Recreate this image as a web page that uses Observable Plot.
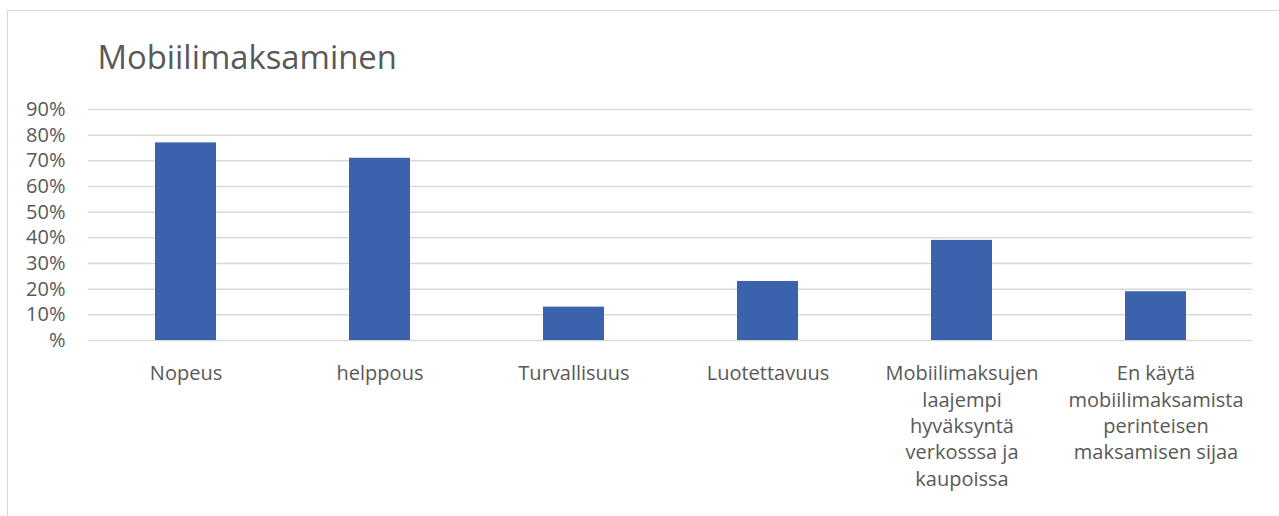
<!DOCTYPE html>
<html>
<head>
<meta charset="utf-8">
<script src="https://cdn.jsdelivr.net/npm/d3@7"></script>
<script src="https://cdn.jsdelivr.net/npm/@observablehq/plot@0.6"></script>
<style>
  html, body { margin: 0; padding: 0; background: #fff; }
  #wrap { position: relative; width: 1279px; height: 516px; overflow: hidden; }
  #border { position: absolute; left: 7px; top: 10px; width: 1400px; height: 600px;
            border-left: 1.5px solid #d9d9d9; border-top: 1.5px solid #d9d9d9; }
  #chart { position: absolute; left: 0; top: 0; }
</style>
</head>
<body>
<div id="wrap"><div id="border"></div><div id="chart"></div></div>
<script>
// Survey answers: what makes mobile payment attractive (share of respondents, %)
const categories = [
  "Nopeus",
  "helppous",
  "Turvallisuus",
  "Luotettavuus",
  "Mobiilimaksujen\nlaajempi\nhyväksyntä\nverkosssa ja\nkaupoissa",
  "En käytä\nmobiilimaksamista\nperinteisen\nmaksamisen sijaa"
];
const values = [77, 71, 13, 23, 39, 19];
const yTicks = [0, 10, 20, 30, 40, 50, 60, 70, 80, 90];
const title = "Mobiilimaksaminen";

const data = categories.map((c, i) => ({category: c, value: values[i]}));

const font = "'Open Sans', sans-serif";
const textColor = "#595959";

const chart = Plot.plot({
  width: 1279,
  height: 516,
  marginLeft: 88,
  marginRight: 27,
  marginTop: 109,
  marginBottom: 176,
  style: {fontFamily: font, fontSize: "20px", color: textColor, background: "transparent", overflow: "visible"},
  x: {domain: categories, paddingInner: 0.686, paddingOuter: 0.343, label: null},
  y: {domain: [0, 90], label: null},
  marks: [
    Plot.ruleY(yTicks, {stroke: "#d9d9d9", strokeWidth: 1.5}),
    Plot.barY(data, {x: "category", y: "value", fill: "#3b63ad"}),
    Plot.axisY(yTicks, {
      tickSize: 0, tickPadding: 23, fontSize: 20, fill: textColor,
      tickFormat: d => d === 0 ? "%" : d + "%", label: null
    }),
    Plot.axisX({
      tickSize: 0, tickPadding: 21, fontSize: 20, fill: textColor,
      lineHeight: 1.32, lineAnchor: "top", label: null
    }),
    Plot.text([title], {
      frameAnchor: "top-left", dx: 9, dy: -51, textAnchor: "start", lineAnchor: "middle",
      fontSize: 32.8, fill: textColor
    })
  ]
});
document.getElementById("chart").appendChild(chart);
</script>
</body>
</html>
